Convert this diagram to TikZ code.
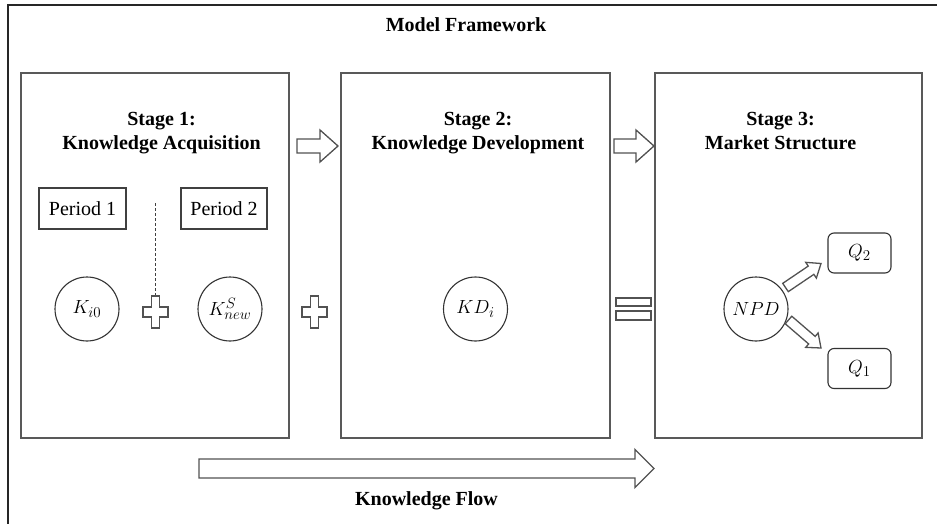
\RequirePackage{fix-cm}
\documentclass[tikz,border=0pt]{standalone}
\usepackage{fontspec}
\setmainfont{Liberation Serif}
\usetikzlibrary{calc}
% larger sub- and superscripts for the symbol labels
\DeclareMathSizes{19}{19}{15}{12}

% hollow block arrow: start, tip, shaft half-width, head half-width, head length
\newcommand\blockarrow[5]{%
  \coordinate (ba-base) at ($(#2)!#5!(#1)$);
  \draw[outline]
    ($(#1)!#3!90:(#2)$) -- ($(ba-base)!#3!90:(#2)$) -- ($(ba-base)!#4!90:(#2)$)
    -- (#2)
    -- ($(ba-base)!#4!-90:(#2)$) -- ($(ba-base)!#3!-90:(#2)$) -- ($(#1)!#3!-90:(#2)$)
    -- cycle;}

% hollow plus sign around a centre coordinate
\newcommand\plussign[1]{%
  \draw[outline] (#1) ++(-4,-16) -- ++(8,0) -- ++(0,11) -- ++(8.5,0) -- ++(0,10)
    -- ++(-8.5,0) -- ++(0,11) -- ++(-8,0) -- ++(0,-11) -- ++(-8.5,0) -- ++(0,-10)
    -- ++(8.5,0) -- cycle;}

\begin{document}
\begin{tikzpicture}[x=1pt,y=-1pt,
  every node/.style={inner sep=0pt, outer sep=0pt},
  frameline/.style={draw=black!85, line width=2pt},
  stagebox/.style={draw=black!65, line width=1.6pt},
  outline/.style={draw=black!68, line width=1.3pt, line join=miter},
  headtext/.style={font=\fontsize{20}{24}\selectfont\bfseries, anchor=base},
  periodbox/.style={draw=black!75, line width=1.2pt, font=\fontsize{20}{24}\selectfont,
    minimum height=41pt},
  knode/.style={circle, draw=black!80, line width=1.1pt, minimum size=64pt,
    font=\fontsize{19}{23}\selectfont},
  qbox/.style={draw=black!80, line width=1.1pt, rounded corners=6pt,
    minimum width=63pt, minimum height=40pt, font=\fontsize{19}{23}\selectfont}
]
\useasboundingbox (0,0) rectangle (937,524);

% outer frame (only top and left edges fall inside the page)
\draw[frameline] (8,524) -- (8,5) -- (937,5);
\node[headtext] (title) at (466,31.5) {Model Framework};

% the three stages
\node[stagebox, minimum width=268pt, minimum height=365pt] (s1) at (155,255.5) {};
\node[stagebox, minimum width=269pt, minimum height=365pt] (s2) at (475.5,255.5) {};
\node[stagebox, minimum width=267pt, minimum height=365pt] (s3) at (788.5,255.5) {};

\node[headtext] (s1a) at (161.5,125.5) {Stage 1:};
\node[headtext] (s1b) at (161.5,149.5) {Knowledge Acquisition};
\node[headtext] (s2a) at (478,125.5) {Stage 2:};
\node[headtext] (s2b) at (478,149.5) {Knowledge Development};
\node[headtext] (s3a) at (780.5,125.5) {Stage 3:};
\node[headtext] (s3b) at (780.5,149.5) {Market Structure};

% stage 1: two periods
\node[periodbox, minimum width=87pt] (p1) at (82.5,208.5) {Period 1};
\node[periodbox, minimum width=86pt] (p2) at (224,208.5) {Period 2};
\node[knode] (k0) at (87,309) {$K_{i0}$};
\node[knode] (kn) at (230,309) {$K^{S}_{new}$};
\coordinate (plusA) at (155.5,312);
\coordinate (divtop) at (155.5,203);
\draw[draw=black!75, line width=1.3pt, dash pattern=on 3pt off 2pt]
  (divtop) -- ($(plusA)+(0,-16)$);
\plussign{plusA}

% stage 2
\node[knode] (kd) at (475.5,309) {$KD_i$};

% stage 3
\node[knode] (npd) at (756,309) {$NPD$};
\node[qbox] (q2) at (859.5,253) {$Q_2$};
\node[qbox] (q1) at (859.5,368.5) {$Q_1$};
\coordinate (npdA) at (785.5,287.5);
\coordinate (tipA) at (821,263.5);
\coordinate (npdB) at (788.5,320);
\coordinate (tipB) at (821,348);
\blockarrow{npdA}{tipA}{5pt}{9.5pt}{12pt}
\blockarrow{npdB}{tipB}{5pt}{9.5pt}{12pt}

% symbols between the stages
\coordinate (plusB) at (314.5,312);
\plussign{plusB}
\draw[outline] (616,298) rectangle (651,306);
\draw[outline] (616,311) rectangle (651,320);

% arrows between the stages
\coordinate (a1s) at (297,146);
\coordinate (a1t) at (338,146);
\coordinate (a2s) at (614,146);
\coordinate (a2t) at (654,146);
\blockarrow{a1s}{a1t}{7pt}{16pt}{18pt}
\blockarrow{a2s}{a2t}{7pt}{16pt}{18pt}

% knowledge flow
\coordinate (kfs) at (199,468.5);
\coordinate (kft) at (654,468.5);
\blockarrow{kfs}{kft}{9.5pt}{19pt}{19pt}
\node[headtext] (kf) at (426.5,505) {Knowledge Flow};
\end{tikzpicture}
\end{document}
